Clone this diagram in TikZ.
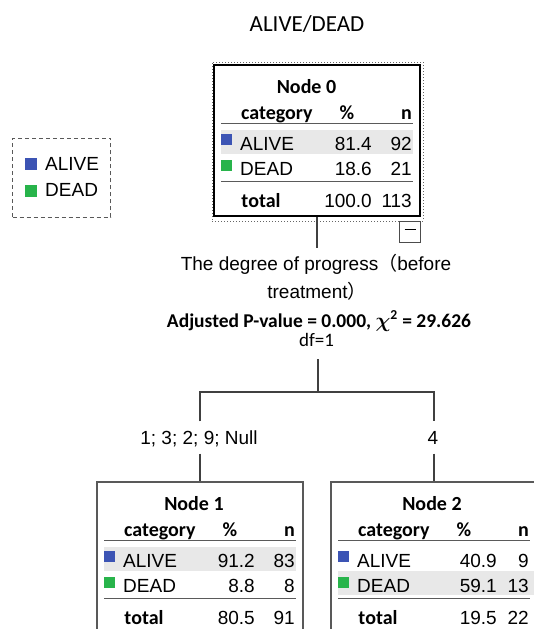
\documentclass[tikz,border=0pt]{standalone}
\usepackage{fontspec}
\setmainfont{Carlito}
\newfontfamily\arialf{Liberation Sans}
\newfontfamily\cjkf{Noto Sans CJK SC}
\definecolor{alivec}{RGB}{60,84,180}
\definecolor{deadc}{RGB}{40,180,75}
\definecolor{bandc}{RGB}{232,232,232}
\definecolor{rulec}{RGB}{90,90,90}
\tikzset{
  hdr/.style={font=\fontsize{20}{24}\selectfont\bfseries, inner sep=0pt},
  dat/.style={font=\arialf\fontsize{19}{22}\selectfont, inner sep=0pt},
  lbl/.style={dat, text height=13.6pt, text depth=0pt, minimum height=32pt},
  sq/.style={inner sep=0pt, minimum size=11pt},
  hrule/.style={draw=rulec, line width=1.2pt},
  trule/.style={draw=rulec, line width=1.7pt},
  nodebox/.style={draw=black!65, line width=1.3pt, minimum width=206pt, minimum height=151pt, inner sep=0pt},
  conn/.style={draw=black!75, line width=1.1pt},
}
% #1 number, #2 title x, #3 pct column right x, #4..#9 values
\newcommand\cattable[9]{%
  \node[hdr, anchor=base] (t#1) at (#2,28) {Node #1};
  \node[hdr, anchor=base west] (c#1) at (27,54) {category};
  \node[hdr, anchor=base] (p#1) at (133,54) {\%};
  \node[hdr, anchor=base east] (nn#1) at (198,54) {n};
  \draw[hrule] (7,58.5) -- (199,58.5);
  \node[sq, fill=alivec] (sa#1) at (12.5,74.5) {};
  \node[sq, fill=deadc] (sd#1) at (12.5,100.5) {};
  \node[dat, anchor=base west] (ra#1) at (26,85) {ALIVE};
  \node[dat, anchor=base west] (rd#1) at (26,110) {DEAD};
  \node[dat, anchor=base east] (ap#1) at (#3,85) {#4};
  \node[dat, anchor=base east] (an#1) at (198,85) {#5};
  \node[dat, anchor=base east] (dp#1) at (#3,110) {#6};
  \node[dat, anchor=base east] (dn#1) at (198,110) {#7};
  \draw[trule] (7,116.5) -- (199,116.5);
  \node[hdr, anchor=base] (tt#1) at (47,142.5) {total};
  \node[dat, anchor=base east] (tp#1) at (#3,142.5) {#8};
  \node[dat, anchor=base east] (tn#1) at (198,142.5) {#9};
}
\begin{document}
\begin{tikzpicture}[x=1pt,y=-1pt]
\useasboundingbox (0,0) rectangle (534,629);
\clip (0,0) rectangle (534,629);

% title
\node[font=\fontsize{23}{27}\selectfont, anchor=base, inner sep=0pt] (title) at (307,31) {ALIVE/DEAD};

% legend
\node[draw=black!65, line width=1pt, dash pattern=on 4pt off 3pt, minimum width=98pt, minimum height=79pt, inner sep=0pt] (legend) at (61.7,177.8) {};
\node[sq, minimum size=12pt, fill=alivec] (lsa) at (31,164) {};
\node[dat, anchor=base west] (lta) at (45,170.7) {ALIVE};
\node[sq, minimum size=12pt, fill=deadc] (lsd) at (31,191) {};
\node[dat, anchor=base west] (ltd) at (45,196.7) {DEAD};

% node 0
\node[draw=black!60, dotted, line width=1pt, minimum width=211pt, minimum height=159pt, inner sep=0pt] (n0sel) at (317.5,141.5) {};
\begin{scope}[shift={(214,65)}]
  \fill[bandc] (7,64.5) rectangle (199,89);
  \cattable{0}{92.5}{158}{81.4}{92}{18.6}{21}{100.0}{113}
\end{scope}
\node[draw=black, line width=2pt, minimum width=206pt, minimum height=151pt, inner sep=0pt] (n0) at (317,140.5) {};
\node[draw=black!70, line width=1pt, minimum size=21pt, inner sep=0pt] (mbox) at (410,231.5) {};
\draw[line width=1pt] ([xshift=-5.5pt,yshift=2.5pt]mbox.center) -- ([xshift=5.5pt,yshift=2.5pt]mbox.center);

% split label
\coordinate (splittop) at (317,248);
\draw[conn] (n0.south) -- (splittop);
\node[dat, anchor=base] (s1) at (316,270.7) {The degree of progress{\cjkf （}before};
\node[dat, anchor=base] (s2) at (317,298) {treatment{\cjkf ）}};
\node[font=\fontsize{19.5}{23}\selectfont\bfseries, anchor=base, inner sep=0pt] (st1) at (319,327) {Adjusted P-value = 0.000, {\boldmath$\chi$}\textsuperscript{2} = 29.626};
\node[font=\fontsize{19}{22}\selectfont, anchor=base, inner sep=0pt] (st2) at (316.5,346) {df=1};
\coordinate (statbot) at (318,359);
\coordinate (fork) at (318,392);
\draw[conn] (statbot) -- (fork);

% child boxes
\node[nodebox] (n1) at (200,557.5) {};
\node[nodebox] (n2) at (434,557.5) {};
\begin{scope}[shift={(97,482)}]
  \fill[bandc] (7,64.5) rectangle (199,89);
  \cattable{1}{97}{158}{91.2}{83}{8.8}{8}{80.5}{91}
\end{scope}
\begin{scope}[shift={(331,482)}]
  \fill[bandc] (7,89) rectangle (205,113);
  \cattable{2}{101}{166}{40.9}{9}{59.1}{13}{19.5}{22}
\end{scope}

% branch labels and connectors
\node[lbl] (l1) at (199,437.5) {1; 3; 2; 9; Null};
\node[lbl] (l2) at (433,437.5) {4};
\draw[conn] (n1.north |- l1.north) |- (fork) -| (n2.north |- l2.north);
\draw[conn] (n1.north |- l1.south) -- (n1.north);
\draw[conn] (n2.north |- l2.south) -- (n2.north);
\end{tikzpicture}
\end{document}
